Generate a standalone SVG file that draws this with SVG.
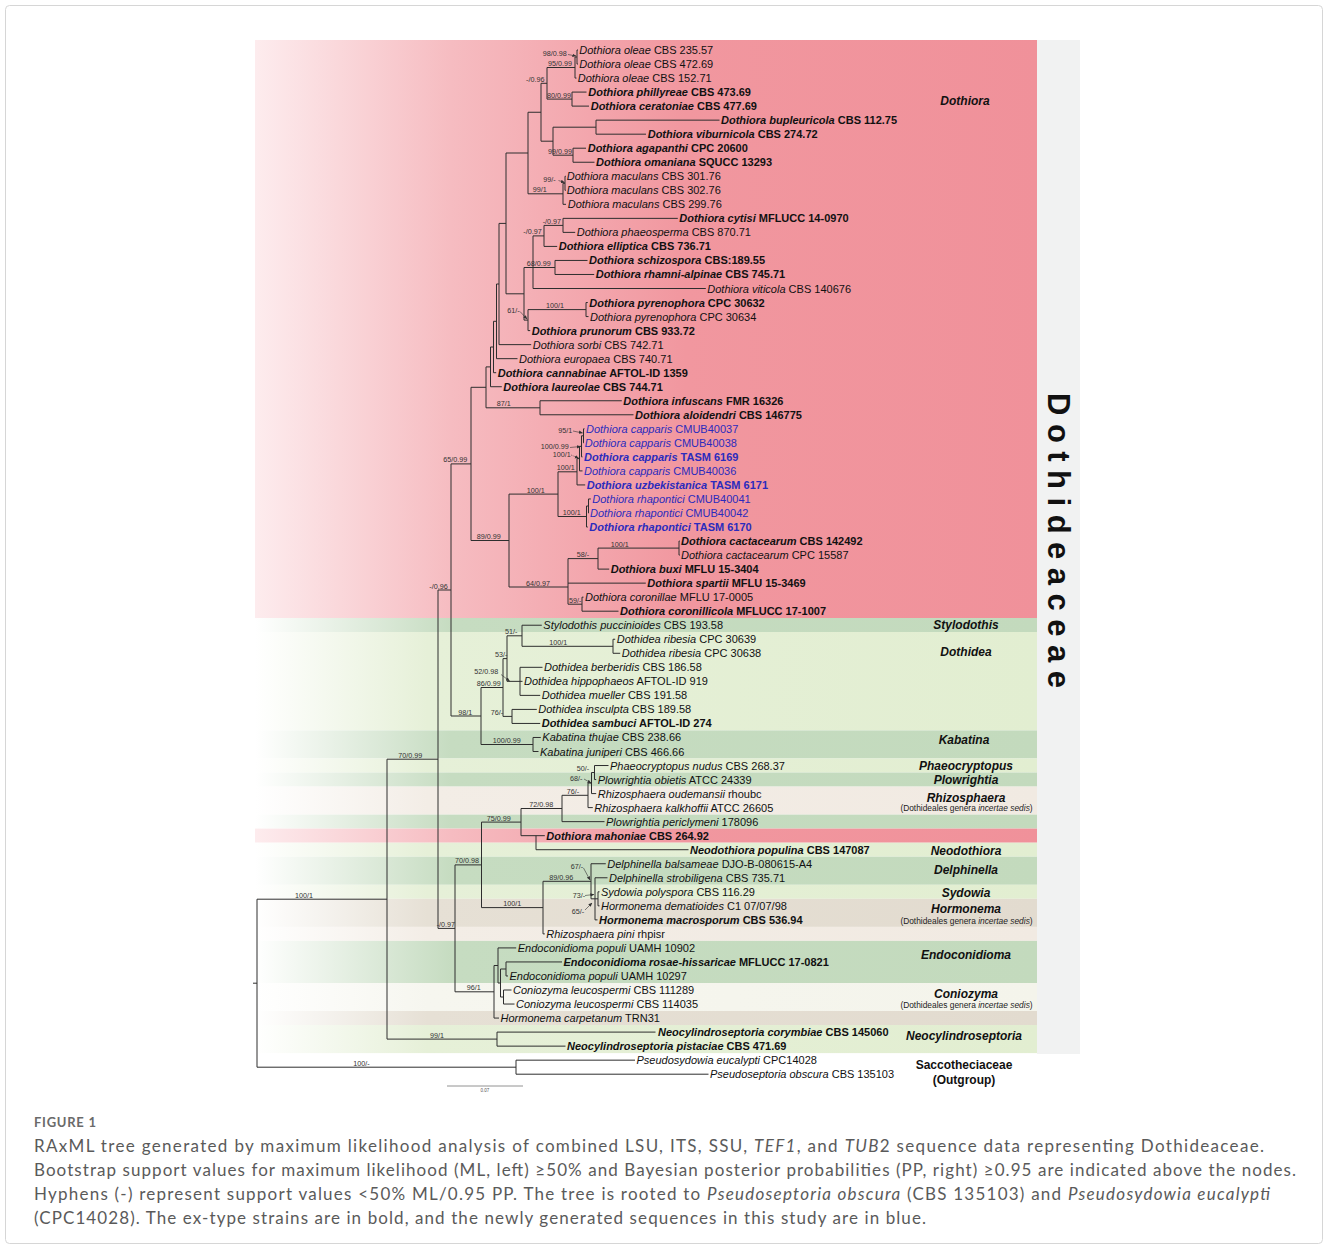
<svg xmlns="http://www.w3.org/2000/svg" width="1328" height="1249" viewBox="0 0 1328 1249">
<defs>
<style>
.br{fill:none;stroke:#2e2e2e;stroke-width:1}
.tips text{font-family:"Liberation Sans",Arial,sans-serif;font-size:11px;fill:#111}
.i{font-style:italic}
.b{font-weight:bold}
.blue{fill:#2b2bbd !important}
.sup text{font-family:"Liberation Sans",Arial,sans-serif;font-size:7.2px;fill:#333}
.ar{fill:none;stroke:#333;stroke-width:0.6}
.gen{font-family:"Liberation Sans",Arial,sans-serif;font-size:12px;font-weight:bold;font-style:italic;text-anchor:middle;fill:#111}
.fam{font-style:normal}
.sub{font-family:"Liberation Sans",Arial,sans-serif;font-size:8.4px;text-anchor:middle;fill:#222}
.cap{font-family:Lato,"Open Sans","Liberation Sans",sans-serif;font-size:17px;fill:#5a5a5a}
</style>
<linearGradient id="gPink" x1="0" y1="0" x2="1" y2="0">
<stop offset="0" stop-color="#fdecee"/><stop offset="0.25" stop-color="#f6bcc1"/><stop offset="0.55" stop-color="#f1979f"/><stop offset="1" stop-color="#f0919a"/>
</linearGradient>
<linearGradient id="gDark" x1="0" y1="0" x2="1" y2="0">
<stop offset="0" stop-color="#ffffff"/><stop offset="0.25" stop-color="#c6dcc1"/><stop offset="1" stop-color="#c3dabd"/>
</linearGradient>
<linearGradient id="gLight" x1="0" y1="0" x2="1" y2="0">
<stop offset="0" stop-color="#ffffff"/><stop offset="0.22" stop-color="#e6f0d8"/><stop offset="1" stop-color="#e2eed1"/>
</linearGradient>
<linearGradient id="gBeige" x1="0" y1="0" x2="1" y2="0">
<stop offset="0" stop-color="#ffffff"/><stop offset="0.22" stop-color="#f3ede6"/><stop offset="1" stop-color="#f1eae2"/>
</linearGradient>
<linearGradient id="gTan" x1="0" y1="0" x2="1" y2="0">
<stop offset="0" stop-color="#ffffff"/><stop offset="0.22" stop-color="#e6e0d5"/><stop offset="1" stop-color="#e2dbcf"/>
</linearGradient>
<linearGradient id="gPale" x1="0" y1="0" x2="1" y2="0">
<stop offset="0" stop-color="#ffffff"/><stop offset="0.22" stop-color="#f6f6ef"/><stop offset="1" stop-color="#f4f4eb"/>
</linearGradient>
<marker id="ah" markerWidth="4" markerHeight="4" refX="3.6" refY="2" orient="auto" markerUnits="userSpaceOnUse"><path d="M0,0.3 L4,2 L0,3.7 z" fill="#333"/></marker>
</defs>
<rect x="0" y="0" width="1328" height="1249" fill="#ffffff"/>
<rect x="5.5" y="5.5" width="1317" height="1238" rx="4" fill="none" stroke="#d6d6d6" stroke-width="1"/>

<g id="bands">
<rect x="255" y="40" width="782" height="578" fill="url(#gPink)"/>
<rect x="255" y="618" width="782" height="14" fill="url(#gDark)"/>
<rect x="255" y="632" width="782" height="98.4" fill="url(#gLight)"/>
<rect x="255" y="730.4" width="782" height="28.1" fill="url(#gDark)"/>
<rect x="255" y="758.5" width="782" height="14" fill="url(#gLight)"/>
<rect x="255" y="772.5" width="782" height="14.1" fill="url(#gDark)"/>
<rect x="255" y="786.6" width="782" height="28" fill="url(#gBeige)"/>
<rect x="255" y="814.6" width="782" height="14" fill="url(#gDark)"/>
<rect x="255" y="828.6" width="782" height="14.1" fill="url(#gPink)"/>
<rect x="255" y="842.7" width="782" height="14" fill="url(#gLight)"/>
<rect x="255" y="856.7" width="782" height="28.1" fill="url(#gDark)"/>
<rect x="255" y="884.8" width="782" height="14" fill="url(#gLight)"/>
<rect x="255" y="898.8" width="782" height="28.1" fill="url(#gTan)"/>
<rect x="255" y="926.9" width="782" height="14" fill="url(#gBeige)"/>
<rect x="255" y="940.9" width="782" height="42.1" fill="url(#gDark)"/>
<rect x="255" y="983" width="782" height="28" fill="url(#gPale)"/>
<rect x="255" y="1011" width="782" height="14" fill="url(#gTan)"/>
<rect x="255" y="1025" width="782" height="28.1" fill="url(#gLight)"/>
<rect x="1037" y="40" width="43" height="1014" fill="#f1f2f2"/>
</g>

<g id="family-label">
<text transform="translate(1047.5,393) rotate(90)" x="0" y="0" textLength="295" lengthAdjust="spacing" font-family="'Liberation Sans',Arial,sans-serif" font-size="31" font-weight="bold" fill="#111">Dothideaceae</text>
</g>

<g id="connectors">
<path class="br" d="M577 50V64.03M577 50H578M577 64.03H578"/>
<path class="br" d="M575 57V78.06M575 57H577M575 78.06H576.5"/>
<path class="br" d="M572 92.09V106.12M572 92.09H586.5M572 106.12H589"/>
<path class="br" d="M547 67.5V99.1M547 67.5H575M547 99.1H572"/>
<path class="br" d="M596 120.15V134.18M596 120.15H719.5M596 134.18H646"/>
<path class="br" d="M573 148.21V162.24M573 148.21H586M573 162.24H594.5"/>
<path class="br" d="M553 127.2V155.2M553 127.2H596M553 155.2H573"/>
<path class="br" d="M541 83.3V141.2M541 83.3H547M541 141.2H553"/>
<path class="br" d="M565 176.27V190.3M565 176.27H565.8M565 190.3H565.8"/>
<path class="br" d="M563 183.3V204.33M563 183.3H565M563 204.33H566"/>
<path class="br" d="M528 112.25V193.8M528 112.25H541M528 193.8H563"/>
<path class="br" d="M563 218.36V232.39M563 218.36H677.8M563 232.39H575.2"/>
<path class="br" d="M544 225.4V246.42M544 225.4H563M544 246.42H557.2"/>
<path class="br" d="M555 260.45V274.48M555 260.45H587.5M555 274.48H594.2"/>
<path class="br" d="M533 235.9V288.51M533 235.9H544M533 267.5H555M533 288.51H705.8"/>
<path class="br" d="M586 302.54V316.57M586 302.54H587.8M586 316.57H588.5"/>
<path class="br" d="M528 309.6V330.6M528 309.6H586M528 330.6H530.2"/>
<path class="br" d="M524 267.5V320.1M524 267.5H533M524 320.1H528"/>
<path class="br" d="M506 153V293.8M506 153H528M506 293.8H524"/>
<path class="br" d="M499 223.4V344.63M499 223.4H506M499 344.63H531.2"/>
<path class="br" d="M496.5 284V358.66M496.5 284H499M496.5 358.66H517.5"/>
<path class="br" d="M493.5 321.3V372.69M493.5 321.3H496.5M493.5 372.69H496.2"/>
<path class="br" d="M490.5 347V386.72M490.5 347H493.5M490.5 386.72H501.8"/>
<path class="br" d="M540 400.75V414.78M540 400.75H621.8M540 414.78H633.5"/>
<path class="br" d="M486 366.9V407.8M486 366.9H490.5M486 407.8H540"/>
<path class="br" d="M583.5 428.81V442.84M583.5 428.81H584.5M583.5 442.84H584"/>
<path class="br" d="M581.5 435.8V456.87M581.5 435.8H583.5M581.5 456.87H582.5"/>
<path class="br" d="M579.5 446.3V470.9M579.5 446.3H581.5M579.5 470.9H582.5"/>
<path class="br" d="M577 458.6V484.93M577 458.6H579.5M577 484.93H585.2"/>
<path class="br" d="M588.5 498.96V512.99M588.5 498.96H590.8M588.5 512.99H589"/>
<path class="br" d="M586.5 506V527.02M586.5 506H588.5M586.5 527.02H587.8"/>
<path class="br" d="M558 471.8V516.5M558 471.8H577M558 516.5H586.5"/>
<path class="br" d="M679 541.05V555.08M679 541.05H679.8M679 555.08H679.8"/>
<path class="br" d="M598 548.1V569.11M598 548.1H679M598 569.11H609.2"/>
<path class="br" d="M582 597.17V611.2M582 597.17H583.5M582 611.2H618.5"/>
<path class="br" d="M568 558.6V604.2M568 558.6H598M568 583.14H645.8M568 604.2H582"/>
<path class="br" d="M509 494.1V587M509 494.1H558M509 587H568"/>
<path class="br" d="M471 387.3V540.5M471 387.3H486M471 540.5H509"/>
<path class="br" d="M613 639.26V653.29M613 639.26H615.2M613 653.29H620.2"/>
<path class="br" d="M522 625.23V646.3M522 625.23H541.8M522 646.3H613"/>
<path class="br" d="M520 667.32V695.38M520 667.32H542.5M520 681.35H522.5M520 695.38H540.2"/>
<path class="br" d="M507 635.8V681.35M507 635.8H522M507 681.35H520"/>
<path class="br" d="M512 709.41V723.44M512 709.41H536.8M512 723.44H540.2"/>
<path class="br" d="M503 658.6V716.4M503 658.6H507M503 716.4H512"/>
<path class="br" d="M533 737.47V751.5M533 737.47H540.8M533 751.5H538.5"/>
<path class="br" d="M481 687.5V744.5M481 687.5H503M481 744.5H533"/>
<path class="br" d="M451 463.9V716M451 463.9H471M451 716H481"/>
<path class="br" d="M594.5 765.53V779.56M594.5 765.53H608.5M594.5 779.56H596.2"/>
<path class="br" d="M591.5 772.5V793.59M591.5 772.5H594.5M591.5 793.59H596.2"/>
<path class="br" d="M588 783V807.62M588 783H591.5M588 807.62H592.8"/>
<path class="br" d="M562 795.3V821.65M562 795.3H588M562 821.65H604.5"/>
<path class="br" d="M521 808.5V835.68M521 808.5H562M521 835.68H544.8"/>
<path class="br" d="M536 835.68V849.71M536 849.71H688.5"/>
<path class="br" d="M598 891.8V905.83M598 891.8H599.5M598 905.83H599.5"/>
<path class="br" d="M595 877.77V919.86M595 877.77H607.5M595 898.8H598M595 919.86H597.5"/>
<path class="br" d="M591 863.74V898.8M591 863.74H605.8M591 898.8H595"/>
<path class="br" d="M543 881.3V933.89M543 881.3H591M543 933.89H544.8"/>
<path class="br" d="M481.5 822.1V907.6M481.5 822.1H521M481.5 907.6H543"/>
<path class="br" d="M506 961.95V975.98M506 961.95H562M506 975.98H508"/>
<path class="br" d="M503.5 990.01V1004.04M503.5 990.01H511.5M503.5 1004.04H514.5"/>
<path class="br" d="M500.5 969V997M500.5 969H506M500.5 997H503.5"/>
<path class="br" d="M498 947.92V983M498 947.92H516.2M498 983H500.5"/>
<path class="br" d="M494 965.5V1018.07M494 965.5H498M494 1018.07H499"/>
<path class="br" d="M455 864.9V991.8M455 864.9H481.5M455 991.8H494"/>
<path class="br" d="M438 590V928.4M438 590H451M438 928.4H455"/>
<path class="br" d="M497 1032.1V1046.13M497 1032.1H655.5M497 1046.13H565.5"/>
<path class="br" d="M387 759.2V1039.1M387 759.2H438M387 1039.1H497"/>
<path class="br" d="M516 1060.16V1074.19M516 1060.16H635M516 1074.19H708.5"/>
<path class="br" d="M257 899.2V1067.2M257 899.2H387M257 1067.2H516M253 983.2H257"/>
</g>

<g id="supports" class="sup">
<text x="542.7" y="56">98/0.98</text><path class="ar" d="M568 54.5L576 56" marker-end="url(#ah)"/>
<text x="548" y="66">95/0.99</text>
<text x="526" y="81.5">-/0.96</text>
<text x="547" y="97.6">80/0.99</text>
<text x="548" y="153.7">99/0.99</text>
<text x="543.3" y="182">99/-</text><path class="ar" d="M558.5 180.5L564.5 182.5" marker-end="url(#ah)"/>
<text x="532.7" y="192.3">99/1</text>
<text x="542.7" y="223.9">-/0.97</text>
<text x="523.3" y="234.4">-/0.97</text>
<text x="526.7" y="266">68/0.99</text>
<text x="546" y="308.1">100/1</text>
<text x="507.3" y="313.3">61/-</text><path class="ar" d="M520 311.5L527 319" marker-end="url(#ah)"/>
<text x="496.7" y="406.3">87/1</text>
<text x="558.3" y="432.5">95/1</text><path class="ar" d="M573 431L582.5 433" marker-end="url(#ah)"/>
<text x="540.7" y="449">100/0.99</text><path class="ar" d="M570 447.5L580.5 446.5" marker-end="url(#ah)"/>
<text x="552.7" y="457.3">100/1</text><path class="ar" d="M571 455L578.5 458" marker-end="url(#ah)" stroke-dasharray="1 0.8"/>
<text x="556.7" y="470.3">100/1</text>
<text x="526.7" y="492.6">100/1</text>
<text x="562.7" y="515">100/1</text>
<text x="476.7" y="539">89/0.99</text>
<text x="610.7" y="546.6">100/1</text>
<text x="576.7" y="557.1">58/-</text>
<text x="526" y="585.5">64/0.97</text>
<text x="569" y="602.7">59/-</text>
<text x="443.3" y="462.4">65/0.99</text>
<text x="429.3" y="588.5">-/0.96</text>
<text x="505" y="634.3">51/-</text>
<text x="549.3" y="644.8">100/1</text>
<text x="495" y="657.1">53/-</text>
<text x="474.3" y="674.3">52/0.98</text><path class="ar" d="M501 674.5L509.5 681" marker-end="url(#ah)"/>
<text x="476.7" y="686">86/0.99</text>
<text x="458.3" y="714.5">98/1</text>
<text x="490.7" y="714.9">76/-</text>
<text x="492.7" y="743">100/0.99</text>
<text x="576.7" y="771">50/-</text>
<text x="570" y="781.3">68/-</text><path class="ar" d="M584 779L591 783" marker-end="url(#ah)"/>
<text x="566.7" y="793.8">76/-</text>
<text x="529.3" y="807">72/0.98</text>
<text x="486.7" y="820.6">75/0.99</text>
<text x="398.3" y="757.7">70/0.99</text>
<text x="295" y="897.7">100/1</text>
<text x="436.7" y="926.9">-/0.97</text>
<text x="430" y="1037.6">99/1</text>
<text x="353.3" y="1065.7">100/-</text>
<text x="455" y="863.4">70/0.98</text>
<text x="570.7" y="868.7">67/-</text><path class="ar" d="M583.5 868L590 880" marker-end="url(#ah)"/>
<text x="549.3" y="879.8">89/0.96</text>
<text x="572.7" y="897.5">73/-</text><path class="ar" d="M585 895.5L594 894.5" marker-end="url(#ah)"/>
<text x="571.7" y="913.7">65/-</text><path class="ar" d="M585 910L592 903" marker-end="url(#ah)"/>
<text x="503.3" y="906.1">100/1</text>
<text x="466.7" y="990.3">96/1</text>
</g>

<g class="tips">
<g id="tip-00"><text x="579.3" y="54"><tspan class="i">Dothiora oleae</tspan> CBS 235.57</text></g>
<g id="tip-01"><text x="579.3" y="68.03"><tspan class="i">Dothiora oleae</tspan> CBS 472.69</text></g>
<g id="tip-02"><text x="577.7" y="82.06"><tspan class="i">Dothiora oleae</tspan> CBS 152.71</text></g>
<g id="tip-03"><text class="b" x="588.3" y="96.09"><tspan class="i">Dothiora phillyreae</tspan> CBS 473.69</text></g>
<g id="tip-04"><text class="b" x="590.7" y="110.12"><tspan class="i">Dothiora ceratoniae</tspan> CBS 477.69</text></g>
<g id="tip-05"><text class="b" x="721" y="124.15"><tspan class="i">Dothiora bupleuricola</tspan> CBS 112.75</text></g>
<g id="tip-06"><text class="b" x="647.7" y="138.18"><tspan class="i">Dothiora viburnicola</tspan> CBS 274.72</text></g>
<g id="tip-07"><text class="b" x="587.7" y="152.21"><tspan class="i">Dothiora agapanthi</tspan> CPC 20600</text></g>
<g id="tip-08"><text class="b" x="596" y="166.24"><tspan class="i">Dothiora omaniana</tspan> SQUCC 13293</text></g>
<g id="tip-09"><text x="566.7" y="180.27"><tspan class="i">Dothiora maculans</tspan> CBS 301.76</text></g>
<g id="tip-10"><text x="566.7" y="194.3"><tspan class="i">Dothiora maculans</tspan> CBS 302.76</text></g>
<g id="tip-11"><text x="567.7" y="208.33"><tspan class="i">Dothiora maculans</tspan> CBS 299.76</text></g>
<g id="tip-12"><text class="b" x="679.3" y="222.36"><tspan class="i">Dothiora cytisi</tspan> MFLUCC 14-0970</text></g>
<g id="tip-13"><text x="576.7" y="236.39"><tspan class="i">Dothiora phaeosperma</tspan> CBS 870.71</text></g>
<g id="tip-14"><text class="b" x="558.7" y="250.42"><tspan class="i">Dothiora elliptica</tspan> CBS 736.71</text></g>
<g id="tip-15"><text class="b" x="589" y="264.45"><tspan class="i">Dothiora schizospora</tspan> CBS:189.55</text></g>
<g id="tip-16"><text class="b" x="595.7" y="278.48"><tspan class="i">Dothiora rhamni-alpinae</tspan> CBS 745.71</text></g>
<g id="tip-17"><text x="707.3" y="292.51"><tspan class="i">Dothiora viticola</tspan> CBS 140676</text></g>
<g id="tip-18"><text class="b" x="589.3" y="306.54"><tspan class="i">Dothiora pyrenophora</tspan> CPC 30632</text></g>
<g id="tip-19"><text x="590" y="320.57"><tspan class="i">Dothiora pyrenophora</tspan> CPC 30634</text></g>
<g id="tip-20"><text class="b" x="531.7" y="334.6"><tspan class="i">Dothiora prunorum</tspan> CBS 933.72</text></g>
<g id="tip-21"><text x="532.7" y="348.63"><tspan class="i">Dothiora sorbi</tspan> CBS 742.71</text></g>
<g id="tip-22"><text x="519" y="362.66"><tspan class="i">Dothiora europaea</tspan> CBS 740.71</text></g>
<g id="tip-23"><text class="b" x="497.7" y="376.69"><tspan class="i">Dothiora cannabinae</tspan> AFTOL-ID 1359</text></g>
<g id="tip-24"><text class="b" x="503.3" y="390.72"><tspan class="i">Dothiora laureolae</tspan> CBS 744.71</text></g>
<g id="tip-25"><text class="b" x="623.3" y="404.75"><tspan class="i">Dothiora infuscans</tspan> FMR 16326</text></g>
<g id="tip-26"><text class="b" x="635" y="418.78"><tspan class="i">Dothiora aloidendri</tspan> CBS 146775</text></g>
<g id="tip-27"><text class="blue" x="586" y="432.81"><tspan class="i">Dothiora capparis</tspan> CMUB40037</text></g>
<g id="tip-28"><text class="blue" x="584.7" y="446.84"><tspan class="i">Dothiora capparis</tspan> CMUB40038</text></g>
<g id="tip-29"><text class="b blue" x="584" y="460.87"><tspan class="i">Dothiora capparis</tspan> TASM 6169</text></g>
<g id="tip-30"><text class="blue" x="584" y="474.9"><tspan class="i">Dothiora capparis</tspan> CMUB40036</text></g>
<g id="tip-31"><text class="b blue" x="586.7" y="488.93"><tspan class="i">Dothiora uzbekistanica</tspan> TASM 6171</text></g>
<g id="tip-32"><text class="blue" x="592.3" y="502.96"><tspan class="i">Dothiora rhapontici</tspan> CMUB40041</text></g>
<g id="tip-33"><text class="blue" x="590" y="516.99"><tspan class="i">Dothiora rhapontici</tspan> CMUB40042</text></g>
<g id="tip-34"><text class="b blue" x="589.3" y="531.02"><tspan class="i">Dothiora rhapontici</tspan> TASM 6170</text></g>
<g id="tip-35"><text class="b" x="681" y="545.05"><tspan class="i">Dothiora cactacearum</tspan> CBS 142492</text></g>
<g id="tip-36"><text x="681" y="559.08"><tspan class="i">Dothiora cactacearum</tspan> CPC 15587</text></g>
<g id="tip-37"><text class="b" x="610.7" y="573.11"><tspan class="i">Dothiora buxi</tspan> MFLU 15-3404</text></g>
<g id="tip-38"><text class="b" x="647.3" y="587.14"><tspan class="i">Dothiora spartii</tspan> MFLU 15-3469</text></g>
<g id="tip-39"><text x="585" y="601.17"><tspan class="i">Dothiora coronillae</tspan> MFLU 17-0005</text></g>
<g id="tip-40"><text class="b" x="620" y="615.2"><tspan class="i">Dothiora coronillicola</tspan> MFLUCC 17-1007</text></g>
<g id="tip-41"><text x="543.3" y="629.23"><tspan class="i">Stylodothis puccinioides</tspan> CBS 193.58</text></g>
<g id="tip-42"><text x="616.7" y="643.26"><tspan class="i">Dothidea ribesia</tspan> CPC 30639</text></g>
<g id="tip-43"><text x="621.7" y="657.29"><tspan class="i">Dothidea ribesia</tspan> CPC 30638</text></g>
<g id="tip-44"><text x="544" y="671.32"><tspan class="i">Dothidea berberidis</tspan> CBS 186.58</text></g>
<g id="tip-45"><text x="524" y="685.35"><tspan class="i">Dothidea hippophaeos</tspan> AFTOL-ID 919</text></g>
<g id="tip-46"><text x="541.7" y="699.38"><tspan class="i">Dothidea mueller</tspan> CBS 191.58</text></g>
<g id="tip-47"><text x="538.3" y="713.41"><tspan class="i">Dothidea insculpta</tspan> CBS 189.58</text></g>
<g id="tip-48"><text class="b" x="541.7" y="727.44"><tspan class="i">Dothidea sambuci</tspan> AFTOL-ID 274</text></g>
<g id="tip-49"><text x="542.3" y="741.47"><tspan class="i">Kabatina thujae</tspan> CBS 238.66</text></g>
<g id="tip-50"><text x="540" y="755.5"><tspan class="i">Kabatina juniperi</tspan> CBS 466.66</text></g>
<g id="tip-51"><text x="610" y="769.53"><tspan class="i">Phaeocryptopus nudus</tspan> CBS 268.37</text></g>
<g id="tip-52"><text x="597.7" y="783.56"><tspan class="i">Plowrightia obietis</tspan> ATCC 24339</text></g>
<g id="tip-53"><text x="597.7" y="797.59"><tspan class="i">Rhizosphaera oudemansii</tspan> rhoubc</text></g>
<g id="tip-54"><text x="594.3" y="811.62"><tspan class="i">Rhizosphaera kalkhoffii</tspan> ATCC 26605</text></g>
<g id="tip-55"><text x="606" y="825.65"><tspan class="i">Plowrightia periclymeni</tspan> 178096</text></g>
<g id="tip-56"><text class="b" x="546.3" y="839.68"><tspan class="i">Dothiora mahoniae</tspan> CBS 264.92</text></g>
<g id="tip-57"><text class="b" x="690" y="853.71"><tspan class="i">Neodothiora populina</tspan> CBS 147087</text></g>
<g id="tip-58"><text x="607.3" y="867.74"><tspan class="i">Delphinella balsameae</tspan> DJO-B-080615-A4</text></g>
<g id="tip-59"><text x="609" y="881.77"><tspan class="i">Delphinella strobiligena</tspan> CBS 735.71</text></g>
<g id="tip-60"><text x="601" y="895.8"><tspan class="i">Sydowia polyspora</tspan> CBS 116.29</text></g>
<g id="tip-61"><text x="601" y="909.83"><tspan class="i">Hormonema dematioides</tspan> C1 07/07/98</text></g>
<g id="tip-62"><text class="b" x="599" y="923.86"><tspan class="i">Hormonema macrosporum</tspan> CBS 536.94</text></g>
<g id="tip-63"><text x="546.3" y="937.89"><tspan class="i">Rhizosphaera pini</tspan> rhpisr</text></g>
<g id="tip-64"><text x="517.7" y="951.92"><tspan class="i">Endoconidioma populi</tspan> UAMH 10902</text></g>
<g id="tip-65"><text class="b" x="563.5" y="965.95"><tspan class="i">Endoconidioma rosae-hissaricae</tspan> MFLUCC 17-0821</text></g>
<g id="tip-66"><text x="509.5" y="979.98"><tspan class="i">Endoconidioma populi</tspan> UAMH 10297</text></g>
<g id="tip-67"><text x="513" y="994.01"><tspan class="i">Coniozyma leucospermi</tspan> CBS 111289</text></g>
<g id="tip-68"><text x="516" y="1008.04"><tspan class="i">Coniozyma leucospermi</tspan> CBS 114035</text></g>
<g id="tip-69"><text x="500.5" y="1022.07"><tspan class="i">Hormonema carpetanum</tspan> TRN31</text></g>
<g id="tip-70"><text class="b" x="658" y="1036.1"><tspan class="i">Neocylindroseptoria corymbiae</tspan> CBS 145060</text></g>
<g id="tip-71"><text class="b" x="567" y="1050.13"><tspan class="i">Neocylindroseptoria pistaciae</tspan> CBS 471.69</text></g>
<g id="tip-72"><text x="636.5" y="1064.16"><tspan class="i">Pseudosydowia eucalypti</tspan> CPC14028</text></g>
<g id="tip-73"><text x="710" y="1078.19"><tspan class="i">Pseudoseptoria obscura</tspan> CBS 135103</text></g>
</g>

<g id="genus-labels">
<text class="gen" x="965" y="105">Dothiora</text>
<text class="gen" x="966" y="629">Stylodothis</text>
<text class="gen" x="966" y="656">Dothidea</text>
<text class="gen" x="964" y="744">Kabatina</text>
<text class="gen" x="966" y="770">Phaeocryptopus</text>
<text class="gen" x="966" y="784">Plowrightia</text>
<text class="gen" x="966" y="801.5">Rhizosphaera</text>
<text class="sub" x="966.5" y="810.5">(Dothideales genera <tspan font-style="italic">incertae sedis</tspan>)</text>
<text class="gen" x="966" y="855">Neodothiora</text>
<text class="gen" x="966" y="874">Delphinella</text>
<text class="gen" x="966" y="896.5">Sydowia</text>
<text class="gen" x="966" y="913">Hormonema</text>
<text class="sub" x="966.5" y="923.8">(Dothideales genera <tspan font-style="italic">incertae sedis</tspan>)</text>
<text class="gen" x="966" y="958.5">Endoconidioma</text>
<text class="gen" x="966" y="997.5">Coniozyma</text>
<text class="sub" x="966.5" y="1007.8">(Dothideales genera <tspan font-style="italic">incertae sedis</tspan>)</text>
<text class="gen" x="964" y="1040">Neocylindroseptoria</text>
<text class="gen fam" x="964" y="1069">Saccotheciaceae</text>
<text class="gen fam" x="964" y="1084">(Outgroup)</text>
</g>

<g id="scale-bar">
<path d="M447 1086H523" stroke="#777" stroke-width="0.8" fill="none"/>
<text x="485" y="1092" font-family="'Liberation Sans',Arial,sans-serif" font-size="4.5" text-anchor="middle" fill="#555">0.07</text>
</g>

<g id="caption">
<text x="34" y="1127" font-family="Lato,'Open Sans','Liberation Sans',sans-serif" font-size="13" font-weight="bold" fill="#6a6a6a" textLength="62" lengthAdjust="spacing">FIGURE 1</text>
<text class="cap" x="34" y="1152" textLength="1230" lengthAdjust="spacing">RAxML tree generated by maximum likelihood analysis of combined LSU, ITS, SSU, <tspan font-style="italic">TEF1</tspan>, and <tspan font-style="italic">TUB</tspan>2 sequence data representing Dothideaceae.</text>
<text class="cap" x="34" y="1176" textLength="1262" lengthAdjust="spacing">Bootstrap support values for maximum likelihood (ML, left) ≥50% and Bayesian posterior probabilities (PP, right) ≥0.95 are indicated above the nodes.</text>
<text class="cap" x="34" y="1200" textLength="1236" lengthAdjust="spacing">Hyphens (-) represent support values &lt;50% ML/0.95 PP. The tree is rooted to <tspan font-style="italic">Pseudoseptoria obscura</tspan> (CBS 135103) and <tspan font-style="italic">Pseudosydowia eucalypti</tspan></text>
<text class="cap" x="34" y="1224" textLength="892" lengthAdjust="spacing">(CPC14028). The ex-type strains are in bold, and the newly generated sequences in this study are in blue.</text>
</g>
</svg>
